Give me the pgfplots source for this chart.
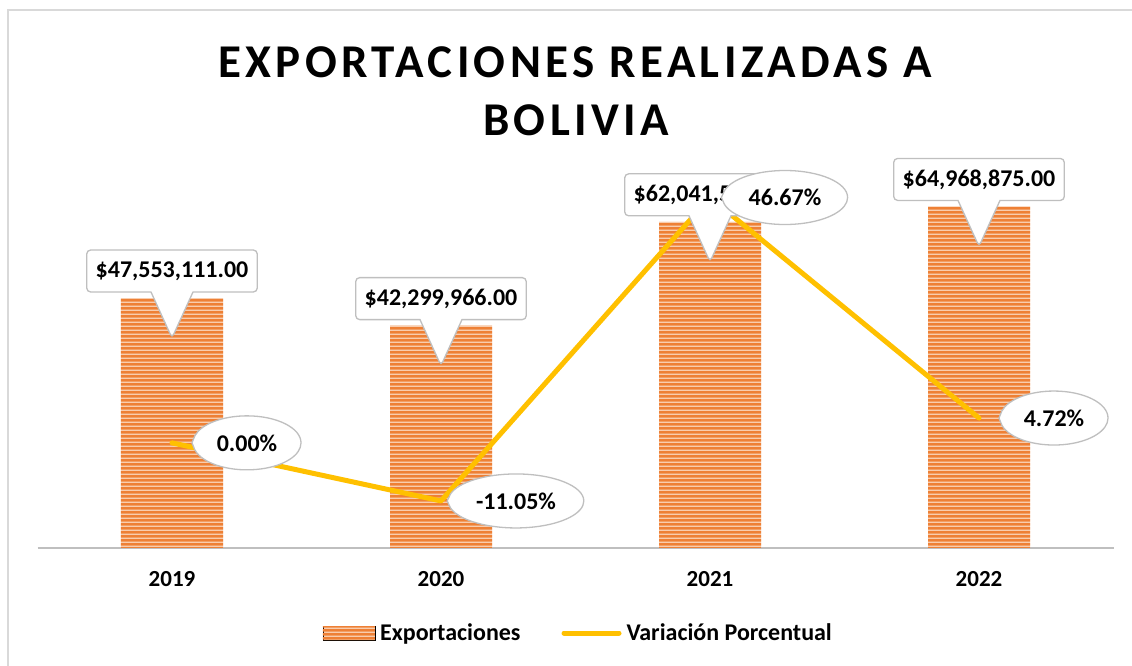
\documentclass[border=0pt]{standalone}
\usepackage{fontspec}
\setmainfont{Carlito}
\usepackage{pgfplots}
\pgfplotsset{compat=1.18}
\usepackage{pgfplotstable}
\usetikzlibrary{patterns,shapes.callouts}

\definecolor{barorange}{HTML}{EE8035}
\definecolor{barlight}{HTML}{FAD9C0}
\definecolor{lineyellow}{HTML}{FFC000}
\definecolor{callgray}{HTML}{BFBFBF}
\definecolor{framegray}{HTML}{D9D9D9}
\definecolor{axisgray}{HTML}{BFBFBF}

\pgfdeclarepatternformonly{hstripes}{\pgfqpoint{0pt}{0pt}}{\pgfqpoint{400pt}{3.75pt}}{\pgfqpoint{400pt}{3.75pt}}{%
  \pgfpathrectangle{\pgfqpoint{-1pt}{0.5pt}}{\pgfqpoint{402pt}{2.75pt}}%
  \pgfusepath{fill}%
}

\pgfplotstableread{
x exp lab
0 47553111 47,553,111.00
1 42299966 42,299,966.00
2 62041523 62,041,523.00
3 64968875 64,968,875.00
}\exptable

\pgfplotstableread{
x pct
0 0.00
1 -11.05
2 46.67
3 4.72
}\pcttable

\pgfplotsset{
  base/.style={scale only axis, width=1076pt, height=368pt, xmin=-0.5, xmax=3.5,
    at={(37.5pt,118pt)}, anchor=south west, clip=false},
  hidden/.style={base, axis lines=none, xtick=\empty, ytick=\empty},
  prim/.style={ymin=0, ymax=70000000},
  sec/.style={ymin=-20, ymax=50},
  barlegend/.style={legend image code/.code={\draw[##1] (0pt,-7pt) rectangle (52pt,7pt);}},
  linelegend/.style={legend image code/.code={\draw[##1] (0pt,0pt) -- (55pt,0pt);}},
}

\begin{document}
\begin{tikzpicture}[x=1pt,y=1pt]
\useasboundingbox (0,0) rectangle (1132,666);
\draw[framegray, line width=1.5pt] (8,-5) -- (8,656) -- (1140,656);
\node[anchor=base, inner sep=0pt, font=\fontsize{47}{56}\selectfont\bfseries\addfontfeatures{LetterSpace=9.3}] at (575,588) {EXPORTACIONES REALIZADAS A};
\node[anchor=base, inner sep=0pt, font=\fontsize{47}{56}\selectfont\bfseries\addfontfeatures{LetterSpace=9.3}] at (576,530) {BOLIVIA};

% bars
\begin{axis}[base, prim,
  axis x line=bottom, axis y line=none,
  x axis line style={axisgray, line width=2pt, -},
  xtick={0,1,2,3}, xticklabels={2019,2020,2021,2022},
  major tick length=0pt,
  xticklabel style={font=\fontsize{23}{28}\selectfont\bfseries, anchor=base, yshift=-39pt},
  ytick=\empty,
  legend style={at={(0.504,-0.231)}, anchor=center, draw=none, fill=none,
    legend columns=2, font=\fontsize{24}{29}\selectfont\bfseries,
    /tikz/every even column/.append style={column sep=36pt},
    nodes={inner xsep=5pt}},
  legend cell align=left,
]
\addplot[ybar, bar width=102pt, bar shift=0pt, draw=none, fill=barlight,
  postaction={pattern=hstripes, pattern color=barorange},
  barlegend] table[x=x,y=exp]{\exptable};
\addlegendentry{Exportaciones}
\addlegendimage{linelegend, lineyellow, line width=5pt, line cap=round}
\addlegendentry{Variación Porcentual}
\end{axis}

% line
\begin{axis}[hidden, sec]
\addplot[lineyellow, line width=5pt, line join=round, line cap=round, mark=none]
  table[x=x,y=pct]{\pcttable};
\end{axis}

% bar value callouts
\begin{axis}[hidden, prim]
\addplot[draw=none, mark=none, point meta=explicit symbolic,
  nodes near coords={\$\pgfplotspointmeta},
  every node near coord/.append style={rectangle callout, draw=callgray, line width=1.3pt,
    fill=white, rounded corners=4pt, font=\fontsize{24}{29}\selectfont\bfseries, text=black,
    inner xsep=9pt, minimum height=42pt, anchor=center, yshift=27pt,
    callout relative pointer={(0pt,-46pt)}, callout pointer width=42pt}]
  table[x=x,y=exp,meta=lab]{\exptable};
\end{axis}

% percentage callouts
\begin{axis}[hidden, sec]
\addplot[draw=none, mark=none, point meta=explicit symbolic,
  nodes near coords={\pgfplotspointmeta\%},
  every node near coord/.append style={ellipse callout, draw=callgray, line width=1.3pt,
    fill=white, font=\fontsize{24}{29}\selectfont\bfseries, text=black,
    inner xsep=8pt, minimum height=54pt, anchor=center, xshift=75pt,
    callout relative pointer={(-1pt,0pt)}, callout pointer arc=30}]
  table[x=x,y=pct,meta=pct]{\pcttable};
\end{axis}
\end{tikzpicture}
\end{document}
